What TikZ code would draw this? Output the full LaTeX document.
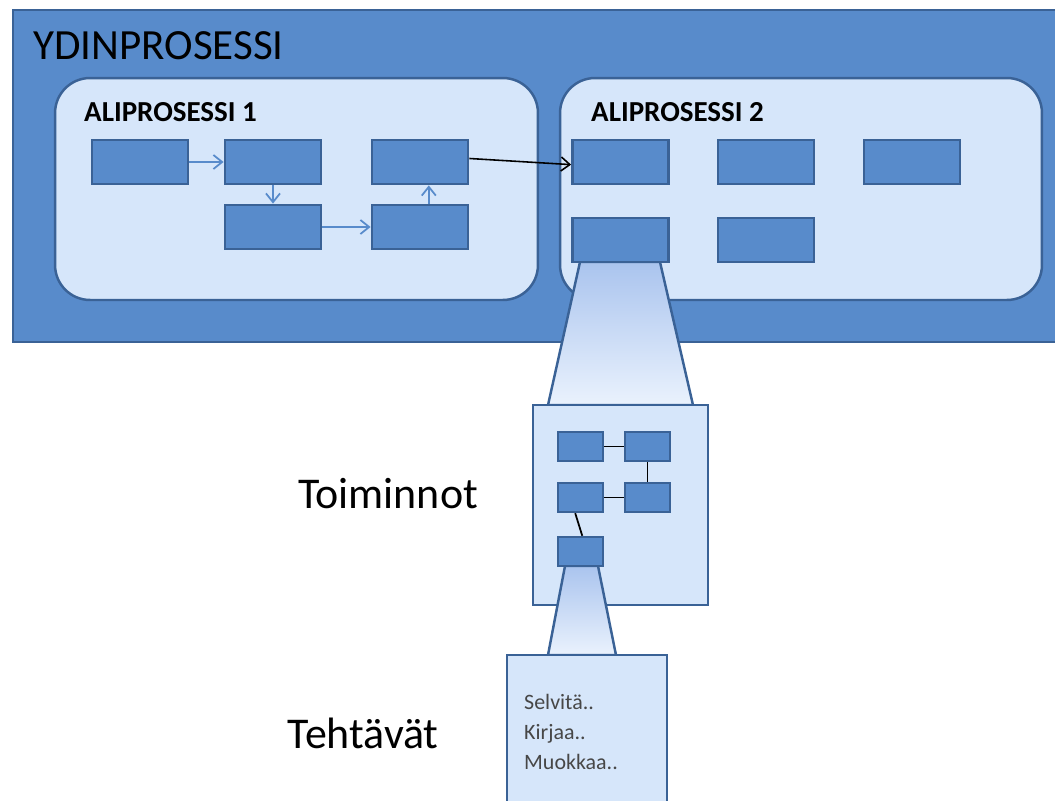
\documentclass[tikz,border=0pt]{standalone}
\usepackage{fontspec}
\setmainfont{Carlito}
\usepackage{xcolor}
\usetikzlibrary{arrows.meta}

\definecolor{ydinblue}{RGB}{88,139,203}
\definecolor{rimblue}{RGB}{58,98,150}
\definecolor{paleblue}{RGB}{214,230,250}
\definecolor{zoomtop}{RGB}{170,196,238}
\definecolor{zoombot}{RGB}{234,242,253}

\begin{document}
\begin{tikzpicture}[x=0.02cm,y=-0.02cm,
    box/.style={draw=rimblue,fill=ydinblue,line width=1.6pt,inner sep=0pt,
      minimum width=1.92cm,minimum height=0.88cm},
    minibox/.style={box,line width=1.4pt,minimum width=0.9cm,minimum height=0.58cm},
    panel/.style={draw=rimblue,fill=paleblue,line width=1.4pt,inner sep=0pt},
    flow/.style={ydinblue,line width=1pt,-{Straight Barb[length=5pt,width=8pt]}},
    link/.style={black,line width=1pt},
    zoom/.style={draw=rimblue,line width=1.4pt,top color=zoomtop,bottom color=zoombot}]
  \useasboundingbox (0,0) rectangle (1055,801);

  % ydinprosessi ja aliprosessit
  \node[panel,fill=ydinblue,minimum width=20.92cm,minimum height=6.64cm] (ydin) at (536,176) {};
  \node[anchor=west,font=\fontsize{24.5}{28}\selectfont] (ydinlabel) at (27,46) {YDINPROSESSI};
  \node[panel,rounded corners=0.7cm,minimum width=9.66cm,minimum height=4.44cm] (ali1) at (296.5,189) {};
  \node[panel,rounded corners=0.7cm,minimum width=9.64cm,minimum height=4.44cm] (ali2) at (801,189) {};
  \node[anchor=west,font=\fontsize{16.5}{19}\selectfont\bfseries] (ali1label) at (78,112) {ALIPROSESSI 1};
  \node[anchor=west,font=\fontsize{16.5}{19}\selectfont\bfseries] (ali2label) at (585,112) {ALIPROSESSI 2};

  % aliprosessi 1
  \node[box] (a1) at (140,162) {};
  \node[box] (a2) at (273,162) {};
  \node[box] (a3) at (420,162) {};
  \node[box] (a4) at (273,227) {};
  \node[box] (a5) at (420,227) {};
  \draw[flow] (a1) -- (a2);
  \draw[flow] (a2) -- (a4);
  \draw[flow] (a4) -- (a5);
  \draw[flow] ([xshift=5pt]a5.north) -- ([xshift=5pt]a3.south);

  % aliprosessi 2
  \node[box] (b1) at (620.5,162) {};
  \node[box] (b2) at (766,162) {};
  \node[box] (b3) at (912,162) {};
  \node[box] (b4) at (620.5,240) {};
  \node[box] (b5) at (766,240) {};
  \draw[black,line width=0.9pt,-{Straight Barb[length=5pt,width=8pt]}]
    ([yshift=2pt]a3.east) -- ([yshift=-1.5pt]b1.west);

  % toiminnot
  \draw[zoom] (580,262) -- (660,262) -- (693,405) -- (548,405) -- cycle;
  \node[box] at (b4) {};
  \node[panel,minimum width=3.5cm,minimum height=4cm] (toim) at (620.5,505) {};
  \node[minibox] (t1) at (580.5,446.5) {};
  \node[minibox] (t2) at (647.5,446.5) {};
  \node[minibox] (t3) at (580.5,497.5) {};
  \node[minibox] (t4) at (647.5,497.5) {};
  \node[minibox] (t5) at (580.5,551.5) {};
  \draw[link] (t1) -- (t2);
  \draw[link] (t2) -- (t4);
  \draw[link] (t3) -- (t4);
  \draw[link] ([xshift=-3pt]t3.south) -- ([xshift=1pt]t5.north);
  \node[font=\fontsize{25}{30}\selectfont] (toimlabel) at (388,494) {Toiminnot};

  % tehtävät
  \draw[zoom] (565,566) -- (598,566) -- (616,655) -- (548,655) -- cycle;
  \node[minibox] at (t5) {};
  \node[panel,minimum width=3.2cm,minimum height=3.04cm] (teht) at (587,731) {};
  \node[anchor=north west,align=left,text=black!72,
    font=\fontsize{12.5}{17}\selectfont] (tehtlist) at (518,688) {Selvitä..\\Kirjaa..\\Muokkaa..};
  \node[font=\fontsize{25}{30}\selectfont] (tehtlabel) at (363,733) {Tehtävät};
\end{tikzpicture}
\end{document}
